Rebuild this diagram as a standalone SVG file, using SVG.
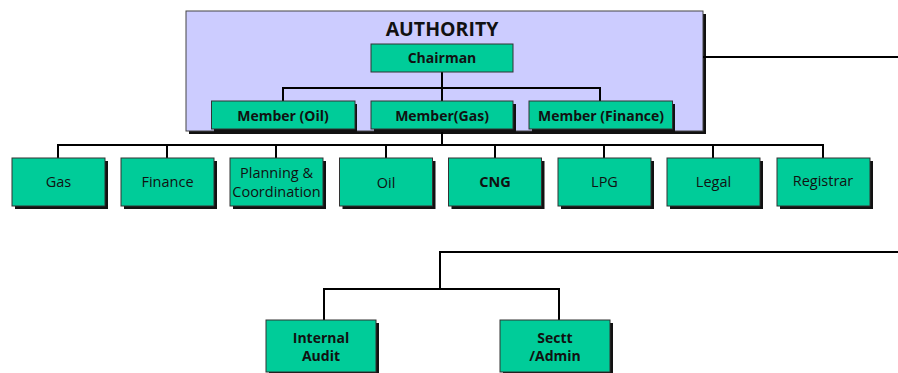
<svg xmlns="http://www.w3.org/2000/svg" width="898" height="373" viewBox="0 0 898 373">
<style>
.sh{fill:#111;}
.bx{fill:#00CC99;stroke:#333;stroke-width:1;}
.au{fill:#CCCCFF;stroke:#444;stroke-width:1;}
.ln{fill:none;stroke:#000;stroke-width:2;}
text{font-family:"Open Sans","Liberation Sans",sans-serif;fill:#111;text-anchor:middle;}
.b{font-weight:bold;font-size:14px;}
.r{font-size:14.5px;}
.t{font-weight:bold;font-size:19.5px;}
</style>
<rect width="898" height="373" fill="#fff"/>
<g id="authority">
<rect class="sh" x="189" y="14" width="517" height="120"/>
<rect class="au" x="186" y="11" width="517" height="120"/>
<text class="t" x="442" y="36">AUTHORITY</text>
</g>
<g id="connectors">
<path class="ln" d="M703 57H898"/>
<path class="ln" d="M442 72V101M283 101V88H600V101"/>
<path class="ln" d="M442 129V145M58 158V145H823V158M167 145V158M276 145V158M386 145V158M495 145V158M604 145V158M713 145V158"/>
<path class="ln" d="M898 252H440V289M324 321V289H559V321"/>
</g>
<g id="chairman">
<rect class="bx" x="371" y="44" width="142" height="28"/>
<text class="b" x="442" y="63">Chairman</text>
</g>
<g id="member-oil">
<rect class="sh" x="214" y="104" width="143" height="28"/>
<rect class="bx" x="211.5" y="101" width="143.5" height="28"/>
<text class="b" x="283" y="121">Member (Oil)</text>
</g>
<g id="member-gas">
<rect class="sh" x="374" y="104" width="142" height="28"/>
<rect class="bx" x="371" y="101" width="142" height="28"/>
<text class="b" x="442" y="121">Member(Gas)</text>
</g>
<g id="member-finance">
<rect class="sh" x="532" y="104" width="143" height="28"/>
<rect class="bx" x="529" y="101" width="143.5" height="28"/>
<text class="b" x="601" y="121">Member (Finance)</text>
</g>
<g id="gas">
<rect class="sh" x="15" y="161" width="93" height="48"/>
<rect class="bx" x="12" y="158" width="93" height="48"/>
<text class="r" x="58.5" y="187">Gas</text>
</g>
<g id="finance">
<rect class="sh" x="124" y="161" width="93" height="48"/>
<rect class="bx" x="121" y="158" width="93" height="48"/>
<text class="r" x="167.5" y="187">Finance</text>
</g>
<g id="planning">
<rect class="sh" x="233" y="161" width="93" height="48"/>
<rect class="bx" x="230" y="158" width="93" height="48"/>
<text class="r" x="276.5" y="178">Planning &amp;</text>
<text class="r" x="276.5" y="197">Coordination</text>
</g>
<g id="oil">
<rect class="sh" x="342.5" y="161" width="93" height="48"/>
<rect class="bx" x="339.5" y="158" width="93" height="48"/>
<text class="r" x="386" y="188">Oil</text>
</g>
<g id="cng">
<rect class="sh" x="451.5" y="161" width="93" height="48"/>
<rect class="bx" x="448.5" y="158" width="93" height="48"/>
<text class="r" x="495" y="187" font-weight="bold">CNG</text>
</g>
<g id="lpg">
<rect class="sh" x="561" y="161" width="93" height="48"/>
<rect class="bx" x="558" y="158" width="93" height="48"/>
<text class="r" x="604.5" y="187">LPG</text>
</g>
<g id="legal">
<rect class="sh" x="670" y="161" width="93" height="48"/>
<rect class="bx" x="667" y="158" width="93" height="48"/>
<text class="r" x="713.5" y="187">Legal</text>
</g>
<g id="registrar">
<rect class="sh" x="780" y="161" width="93" height="48"/>
<rect class="bx" x="777" y="158" width="93" height="48"/>
<text class="r" x="823" y="186">Registrar</text>
</g>
<g id="internal-audit">
<rect class="sh" x="269" y="323" width="110" height="52"/>
<rect class="bx" x="266" y="320" width="110" height="52"/>
<text class="b" x="321" y="343">Internal</text>
<text class="b" x="321" y="361">Audit</text>
</g>
<g id="sectt-admin">
<rect class="sh" x="503" y="323" width="110" height="52"/>
<rect class="bx" x="500" y="320" width="110" height="52"/>
<text class="b" x="555" y="343">Sectt</text>
<text class="b" x="555" y="361">/Admin</text>
</g>
</svg>
